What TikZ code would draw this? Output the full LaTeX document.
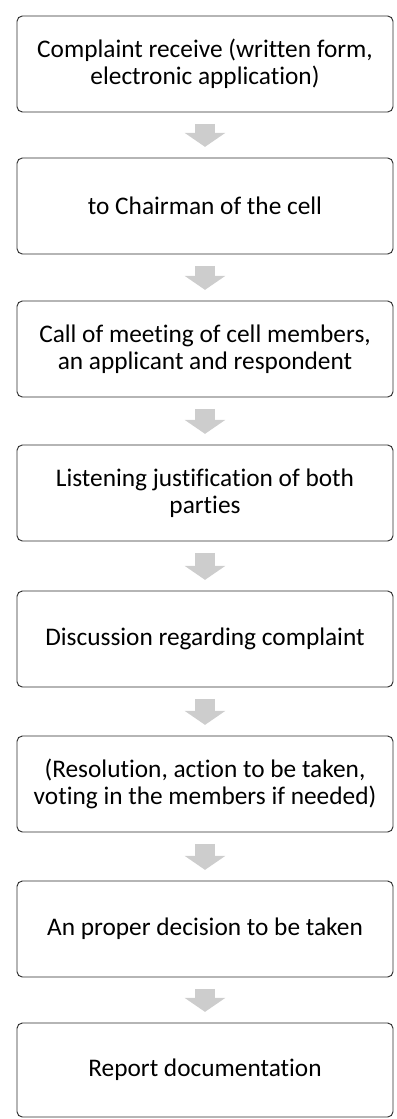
\documentclass[tikz,border=0pt]{standalone}
\usepackage{fontspec}
\setmainfont[Ligatures=NoCommon]{Carlito}
\usetikzlibrary{arrows.meta}

\definecolor{boxline}{RGB}{45,45,45}
\definecolor{arrowgray}{RGB}{205,205,205}

\tikzset{
  stepbox/.style={draw=boxline, line width=0.7pt, rounded corners=4pt,
    minimum width=282pt, minimum height=72pt, align=center, inner sep=0pt,
    font=\fontsize{19}{20.5}\selectfont},
  flowarrow/.style={draw=arrowgray, line width=15pt,
    -{Triangle[width=30pt,length=10.5pt]}, shorten <=8.5pt, shorten >=8pt},
}

\begin{document}
\begin{tikzpicture}[x=0.75pt,y=0.75pt,yscale=-1,xscale=1]
%set diagram left start at 0, and has height of 1119
\path [use as bounding box] (0,0) rectangle (396,1119);

% Text Node
\node [stepbox] (receive) at (205,64) {Complaint receive (written form,\\electronic application)};
% Text Node
\node [stepbox] (chairman) at (205,206) {to Chairman of the cell};
% Text Node
\node [stepbox] (meeting) at (205,349) {Call of meeting of cell members,\\an applicant and respondent};
% Text Node
\node [stepbox] (listening) at (205,493) {Listening justification of both\\parties};
% Text Node
\node [stepbox] (discussion) at (205,639) {Discussion regarding complaint};
% Text Node
\node [stepbox] (resolution) at (205,784) {(Resolution, action to be taken,\\voting in the members if needed)};
% Text Node
\node [stepbox] (decision) at (205,929) {An proper decision to be taken};
% Text Node
\node [stepbox, minimum height=70.5pt] (report) at (205,1070) {Report documentation};

%Block Arrows
\draw [flowarrow] (receive) -- (chairman);
\draw [flowarrow] (chairman) -- (meeting);
\draw [flowarrow] (meeting) -- (listening);
\draw [flowarrow] (listening) -- (discussion);
\draw [flowarrow] (discussion) -- (resolution);
\draw [flowarrow] (resolution) -- (decision);
\draw [flowarrow] (decision) -- (report);

\end{tikzpicture}
\end{document}
